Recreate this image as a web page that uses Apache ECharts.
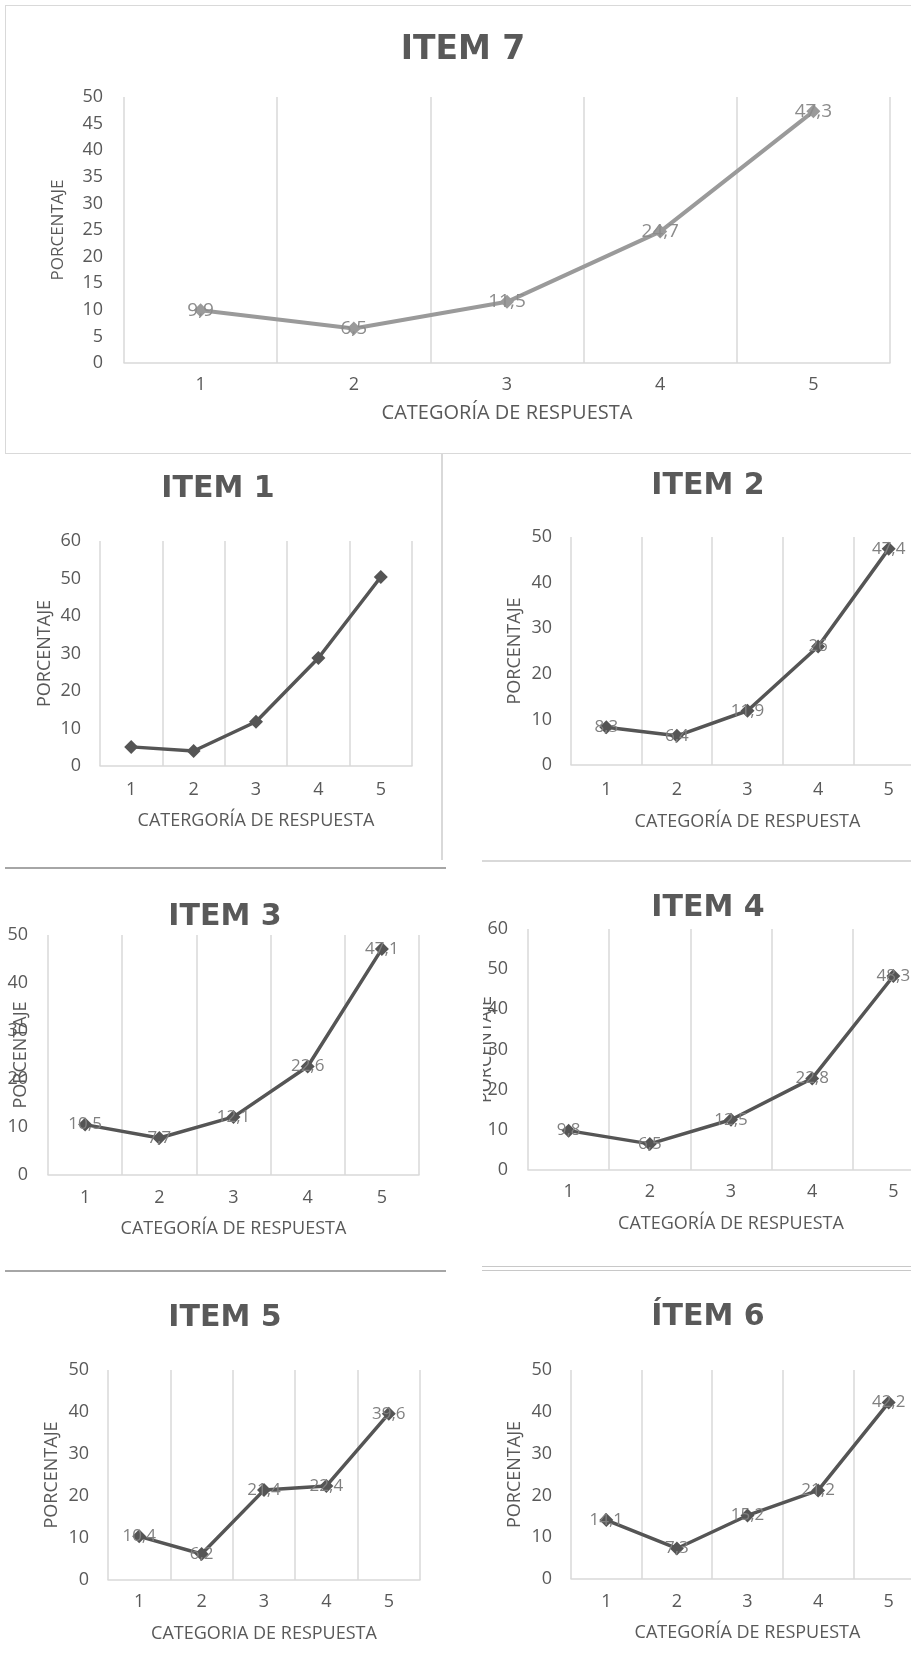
<!DOCTYPE html>
<html>
<head>
<meta charset="utf-8">
<script src="https://cdn.jsdelivr.net/npm/echarts@6/dist/echarts.min.js"></script>
<style>
  html, body { margin: 0; padding: 0; background: #ffffff; }
  #page { position: relative; width: 911px; height: 1666px; overflow: hidden; background: #ffffff; }
  .panel { position: absolute; overflow: hidden; }
  .rule { position: absolute; }
</style>
</head>
<body>
<div id="page">
  <div class="rule" style="left:5px;top:5px;width:906px;height:449px;border-top:1.5px solid #d9d9d9;border-left:1.5px solid #d9d9d9;border-bottom:1.5px solid #d9d9d9;box-sizing:border-box;"></div>
  <div class="rule" style="left:441px;top:454px;width:2px;height:406px;background:#d9d9d9;"></div>
  <div class="rule" style="left:5px;top:867px;width:441px;height:2px;background:#a6a6a6;"></div>
  <div class="rule" style="left:482px;top:860px;width:429px;height:1.5px;background:#d9d9d9;"></div>
  <div class="rule" style="left:482px;top:1266px;width:429px;height:1px;background:#c8c8c8;"></div>
  <div class="rule" style="left:482px;top:1270px;width:429px;height:1px;background:#c8c8c8;"></div>
  <div class="rule" style="left:5px;top:1270px;width:441px;height:2px;background:#a6a6a6;"></div>

  <div id="p7" class="panel" style="left:0;top:0;width:911px;height:456px;"></div>
  <div id="p1" class="panel" style="left:0;top:455px;width:441px;height:410px;"></div>
  <div id="p2" class="panel" style="left:450px;top:455px;width:461px;height:404px;"></div>
  <div id="p3" class="panel" style="left:0;top:870px;width:446px;height:398px;"></div>
  <div id="p4" class="panel" style="left:483px;top:862px;width:428px;height:403px;"></div>
  <div id="p5" class="panel" style="left:0;top:1272px;width:446px;height:394px;"></div>
  <div id="p6" class="panel" style="left:450px;top:1272px;width:461px;height:394px;"></div>
</div>
<script>
// Response categories shared by every item
const categories = ['1', '2', '3', '4', '5'];

// Percentage of answers per category, one array per item
const item7 = [9.9, 6.5, 11.5, 24.7, 47.3];
const item1 = [5.1, 4.0, 11.8, 28.8, 50.4];
const item2 = [8.3, 6.4, 11.9, 26, 47.4];
const item3 = [10.5, 7.7, 12.1, 22.6, 47.1];
const item4 = [9.8, 6.5, 12.5, 22.8, 48.3];
const item5 = [10.4, 6.2, 21.4, 22.4, 39.6];
const item6 = [14.1, 7.3, 15.2, 21.2, 42.2];

// Chart titles and axis names
const titles = ['ITEM 7', 'ITEM 1', 'ITEM 2', 'ITEM 3', 'ITEM 4', 'ITEM 5', 'ÍTEM 6'];
const xNames = [
  'CATEGORÍA DE RESPUESTA',
  'CATERGORÍA DE RESPUESTA',
  'CATEGORÍA DE RESPUESTA',
  'CATEGORÍA DE RESPUESTA',
  'CATEGORÍA DE RESPUESTA',
  'CATEGORIA DE RESPUESTA',
  'CATEGORÍA DE RESPUESTA'
];
const yName = 'PORCENTAJE';

// Y axis ranges per item: [max, interval]
const yRanges = [[50, 5], [60, 10], [50, 10], [50, 10], [60, 10], [50, 10], [50, 10]];

const FONT = '"Open Sans", "Noto Sans", sans-serif';
const TEXT = '#595959';
const GRIDLINE = '#d9d9d9';

function decimalComma(v) {
  return String(v).replace('.', ',');
}

function buildOption(p) {
  return {
    animation: false,
    backgroundColor: 'transparent',
    title: {
      text: p.title,
      left: p.titleX,
      top: p.titleY,
      textAlign: 'center',
      padding: 0,
      textStyle: {
        fontFamily: '"DejaVu Sans", sans-serif',
        fontWeight: 'bold',
        fontSize: p.titleSize,
        color: TEXT
      }
    },
    grid: {
      left: p.grid[0], right: p.grid[1], top: p.grid[2], height: p.grid[3],
      containLabel: false,
      outerBoundsMode: 'none'
    },
    xAxis: {
      type: 'category',
      data: categories,
      boundaryGap: true,
      name: p.xName,
      nameLocation: 'middle',
      nameGap: p.xNameGap,
      nameMoveOverlap: false,
      nameTextStyle: { fontFamily: FONT, fontSize: p.xNameSize, color: TEXT },
      axisLine: { lineStyle: { color: GRIDLINE, width: 1.5 } },
      axisTick: { show: false },
      axisLabel: { margin: p.xLabelMargin, fontFamily: FONT, fontSize: p.tickSize, color: TEXT },
      splitLine: { show: true, lineStyle: { color: GRIDLINE, width: 1.5 } }
    },
    yAxis: {
      type: 'value',
      min: 0,
      max: p.yMax,
      interval: p.yInterval,
      name: yName,
      nameLocation: 'middle',
      nameRotate: 90,
      nameGap: p.yNameGap,
      nameMoveOverlap: false,
      nameTextStyle: { fontFamily: FONT, fontSize: p.nameSize, color: TEXT },
      axisLine: { show: false },
      axisTick: { show: false },
      splitLine: { show: false },
      axisLabel: { margin: p.yLabelMargin, fontFamily: FONT, fontSize: p.tickSize, color: TEXT }
    },
    series: [{
      type: 'line',
      data: p.values,
      symbol: 'diamond',
      symbolSize: p.symbolSize,
      lineStyle: { color: p.color, width: p.lineWidth },
      itemStyle: { color: p.color },
      label: {
        show: p.showLabels,
        position: 'inside',
        formatter: function (d) { return decimalComma(d.value); },
        fontFamily: FONT,
        fontSize: p.labelSize,
        color: p.labelColor
      }
    }]
  };
}

const panels = [
  { id: 'p7', values: item7, idx: 0, titleX: 463, titleY: 34, titleSize: 33,
    grid: [124, 21, 97, 266], xNameGap: 40, yNameGap: 57, xLabelMargin: 13, yLabelMargin: 21,
    tickSize: 18, nameSize: 17, xNameSize: 20, labelSize: 19, symbolSize: 14, lineWidth: 4,
    color: '#9a9a9a', labelColor: '#8c8c8c', showLabels: true },
  { id: 'p1', values: item1, idx: 1, titleX: 218, titleY: 19, titleSize: 30,
    grid: [100, 29, 86, 225], xNameGap: 46, yNameGap: 46, xLabelMargin: 15, yLabelMargin: 19,
    tickSize: 18, nameSize: 18, xNameSize: 18, labelSize: 17, symbolSize: 14, lineWidth: 3.5,
    color: '#555555', labelColor: '#808080', showLabels: false },
  { id: 'p2', values: item2, idx: 2, titleX: 258, titleY: 16, titleSize: 30,
    grid: [121, -13, 82, 228], xNameGap: 48, yNameGap: 47, xLabelMargin: 16, yLabelMargin: 19,
    tickSize: 18, nameSize: 18, xNameSize: 18, labelSize: 17, symbolSize: 14, lineWidth: 3.5,
    color: '#555555', labelColor: '#808080', showLabels: true },
  { id: 'p3', values: item3, idx: 3, titleX: 225, titleY: 32, titleSize: 30,
    grid: [48, 27, 65, 240], xNameGap: 45, yNameGap: 18, xLabelMargin: 14, yLabelMargin: 20,
    tickSize: 18, nameSize: 18, xNameSize: 18, labelSize: 17, symbolSize: 14, lineWidth: 3.5,
    color: '#555555', labelColor: '#808080', showLabels: true },
  { id: 'p4', values: item4, idx: 4, titleX: 225, titleY: 31, titleSize: 30,
    grid: [45, -23, 67, 241], xNameGap: 45, yNameGap: 33, xLabelMargin: 13, yLabelMargin: 20,
    tickSize: 18, nameSize: 18, xNameSize: 18, labelSize: 17, symbolSize: 14, lineWidth: 3.5,
    color: '#555555', labelColor: '#808080', showLabels: true },
  { id: 'p5', values: item5, idx: 5, titleX: 225, titleY: 31, titleSize: 30,
    grid: [108, 26, 98, 210], xNameGap: 45, yNameGap: 47, xLabelMargin: 13, yLabelMargin: 19,
    tickSize: 18, nameSize: 18, xNameSize: 18, labelSize: 17, symbolSize: 14, lineWidth: 3.5,
    color: '#555555', labelColor: '#808080', showLabels: true },
  { id: 'p6', values: item6, idx: 6, titleX: 258, titleY: 30, titleSize: 30,
    grid: [121, -13, 98, 209], xNameGap: 45, yNameGap: 47, xLabelMargin: 14, yLabelMargin: 19,
    tickSize: 18, nameSize: 18, xNameSize: 18, labelSize: 17, symbolSize: 14, lineWidth: 3.5,
    color: '#555555', labelColor: '#808080', showLabels: true }
];

panels.forEach(function (p) {
  const chart = echarts.init(document.getElementById(p.id), null, { renderer: 'canvas' });
  chart.setOption(buildOption({
    title: titles[p.idx],
    xName: xNames[p.idx],
    yMax: yRanges[p.idx][0],
    yInterval: yRanges[p.idx][1],
    values: p.values,
    titleX: p.titleX, titleY: p.titleY, titleSize: p.titleSize,
    grid: p.grid, xNameGap: p.xNameGap, yNameGap: p.yNameGap,
    xLabelMargin: p.xLabelMargin, yLabelMargin: p.yLabelMargin,
    tickSize: p.tickSize, nameSize: p.nameSize, xNameSize: p.xNameSize, labelSize: p.labelSize,
    symbolSize: p.symbolSize, lineWidth: p.lineWidth, color: p.color, labelColor: p.labelColor,
    showLabels: p.showLabels
  }));
});
</script>
</body>
</html>
